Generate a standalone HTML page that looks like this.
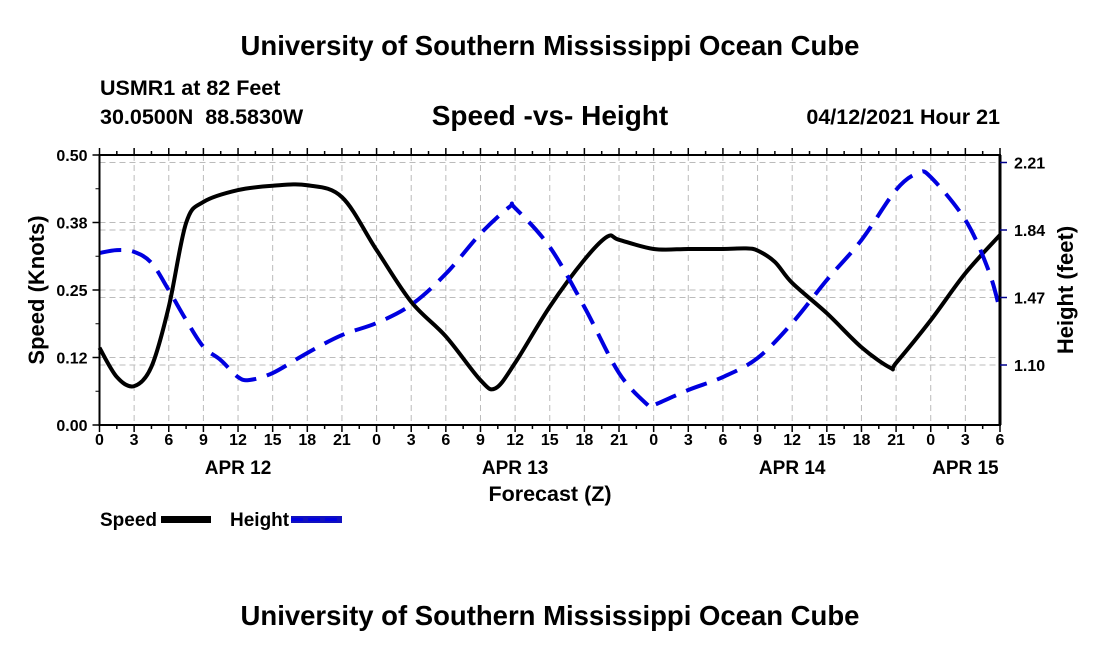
<!DOCTYPE html>
<html><head><meta charset="utf-8"><style>
body{margin:0;background:#fff;}
svg text{font-family:"Liberation Sans",Arial,sans-serif;font-weight:bold;fill:#000;}
</style></head><body>
<svg id="chart" width="1100" height="650" viewBox="0 0 1100 650" xmlns="http://www.w3.org/2000/svg">
<rect width="1100" height="650" fill="#fff"/>
<text x="550" y="55" font-size="27.5" text-anchor="middle">University of Southern Mississippi Ocean Cube</text>
<text x="100" y="95" font-size="21.5">USMR1 at 82 Feet</text>
<text x="100" y="124" font-size="21.5" xml:space="preserve">30.0500N  88.5830W</text>
<text x="550" y="125" font-size="28" text-anchor="middle">Speed -vs- Height</text>
<text x="1000" y="124" font-size="21.5" text-anchor="end">04/12/2021 Hour 21</text>
<g id="grid"></g>
<g id="marks"></g>
<g id="axes"></g>
<text transform="translate(44,290) rotate(-90)" font-size="22" text-anchor="middle">Speed (Knots)</text>
<text transform="translate(1073,290) rotate(-90)" font-size="22" text-anchor="middle">Height (feet)</text>
<text x="550" y="501" font-size="21.5" text-anchor="middle">Forecast (Z)</text>
<g>
<text x="100" y="526" font-size="19">Speed</text>
<rect x="161" y="516" width="50" height="7" fill="#000"/>
<text x="230" y="526" font-size="19">Height</text>
<rect x="291" y="516" width="51" height="7" fill="#1010c0"/>
<line x1="291" y1="519.5" x2="342" y2="519.5" stroke="#0000e0" stroke-width="3" stroke-dasharray="12,5"/>
</g>
<text x="550" y="625" font-size="27.5" text-anchor="middle">University of Southern Mississippi Ocean Cube</text>
</svg>
<script>
const speedHours=[0,1.5,3,4.5,6,7.5,9,12,15,18,21,24,27,30,33,34.3,36,39,42,44,45,48,51,54,56,57,58.5,60,63,66,68.5,69,72,75,78];
const speedValues=[0.143,0.089,0.072,0.108,0.219,0.374,0.413,0.435,0.443,0.444,0.422,0.324,0.228,0.164,0.083,0.068,0.115,0.219,0.306,0.349,0.343,0.326,0.326,0.326,0.327,0.323,0.302,0.263,0.207,0.144,0.106,0.115,0.194,0.281,0.352];
const heightHours=[0,1.5,3,4.5,6,7.5,9,10.5,12,13,15,18,21,24,27,30,33,35.5,36,39,42,45,47.5,48,51,54,57,60,63,66,69,70.9,72,75,77,78];
const heightValues=[1.714,1.73,1.72,1.66,1.51,1.347,1.20,1.127,1.034,1.018,1.056,1.166,1.264,1.33,1.43,1.60,1.82,1.966,1.96,1.747,1.418,1.056,0.88,0.88,0.963,1.034,1.138,1.33,1.566,1.785,2.06,2.152,2.13,1.895,1.62,1.40];
const xTickLabels=["0","3","6","9","12","15","18","21","0","3","6","9","12","15","18","21","0","3","6","9","12","15","18","21","0","3","6"];
const dateLabels=["APR 12","APR 13","APR 14","APR 15"];
const dateHours=[12,36,60,75];
const speedTicks=[0,0.125,0.25,0.375,0.5];
const speedTickLabels=["0.00","0.12","0.25","0.38","0.50"];
const heightTicks=[1.10,1.47,1.84,2.21];

const L=99.5,R=1000,T=155,B=425;
const x=h=>L+(R-L)*h/78;
const yS=v=>B-(B-T)*v/0.5;
const yH=v=>365-(v-1.10)*(67.5/0.37);
const NS="http://www.w3.org/2000/svg";
function mk(tag,parent,attrs){const e=document.createElementNS(NS,tag);for(const k in attrs)e.setAttribute(k,attrs[k]);parent.appendChild(e);return e;}
const grid=document.getElementById('grid'),axes=document.getElementById('axes'),marks=document.getElementById('marks');
const gs={stroke:"#bbb","stroke-width":1,"stroke-dasharray":"6,4"};
for(let i=1;i<26;i++){const l=mk('line',grid,Object.assign({x1:x(i*3),x2:x(i*3),y1:T,y2:B},gs));

}
speedTicks.slice(1,4).forEach(v=>{const l=mk('line',grid,Object.assign({x1:L,x2:R,y1:yS(v),y2:yS(v)},gs));

});
heightTicks.forEach(v=>{const l=mk('line',grid,Object.assign({x1:L,x2:R,y1:yH(v),y2:yH(v)},gs));

});
function path(hs,vs,yf){const p=hs.map((h,i)=>[x(h),yf(vs[i])]);let d=`M${p[0][0]},${p[0][1]}`;
for(let i=0;i<p.length-1;i++){const p0=p[Math.max(0,i-1)],p1=p[i],p2=p[i+1],p3=p[Math.min(p.length-1,i+2)];
const c1=[p1[0]+(p2[0]-p0[0])/6,p1[1]+(p2[1]-p0[1])/6],c2=[p2[0]-(p3[0]-p1[0])/6,p2[1]-(p3[1]-p1[1])/6];
d+=` C${c1[0]},${c1[1]} ${c2[0]},${c2[1]} ${p2[0]},${p2[1]}`;}return d;}
const sp=mk('path',marks,{d:path(speedHours,speedValues,yS),fill:"none",stroke:"#000","stroke-width":4,"stroke-linejoin":"round"});


const hp=mk('path',marks,{d:path(heightHours,heightValues,yH),fill:"none",stroke:"#0000e0","stroke-width":4,"stroke-dasharray":"22,11"});


mk('rect',axes,{x:L,y:T,width:R-L,height:B-T,fill:"none",stroke:"#000","stroke-width":2});
mk('line',axes,{x1:R,x2:R,y1:T,y2:B,stroke:"#000","stroke-width":3});
for(let i=0;i<=52;i++){const len=i%2?4:7;mk('line',axes,{x1:x(i*1.5),x2:x(i*1.5),y1:B,y2:B+len,stroke:"#000","stroke-width":1.5});
mk('line',axes,{x1:x(i*1.5),x2:x(i*1.5),y1:T,y2:T-len,stroke:"#000","stroke-width":1.5});}
xTickLabels.forEach((s,i)=>{const t=mk('text',axes,{x:x(i*3),y:B+20,"font-size":16,"text-anchor":"middle"});t.textContent=s;

});
dateLabels.forEach((s,i)=>{const t=mk('text',axes,{x:x(dateHours[i]),y:B+49,"font-size":19,"text-anchor":"middle"});t.textContent=s;

});
speedTicks.forEach((v,i)=>{mk('line',axes,{x1:L-7,x2:L,y1:yS(v),y2:yS(v),stroke:"#000","stroke-width":1.5});
const t=mk('text',axes,{x:L-12,y:yS(v)+6,"font-size":16,"text-anchor":"end"});t.textContent=speedTickLabels[i];

});
for(let v=0.0625;v<0.5;v+=0.125)mk('line',axes,{x1:L-4,x2:L,y1:yS(v),y2:yS(v),stroke:"#000","stroke-width":1});
heightTicks.forEach(v=>{mk('line',axes,{x1:R,x2:R+7,y1:yH(v),y2:yH(v),stroke:"#00008b","stroke-width":1.5});
const t=mk('text',axes,{x:R+14,y:yH(v)+6,"font-size":16});t.textContent=v.toFixed(2);

});
</script>
</body></html>
